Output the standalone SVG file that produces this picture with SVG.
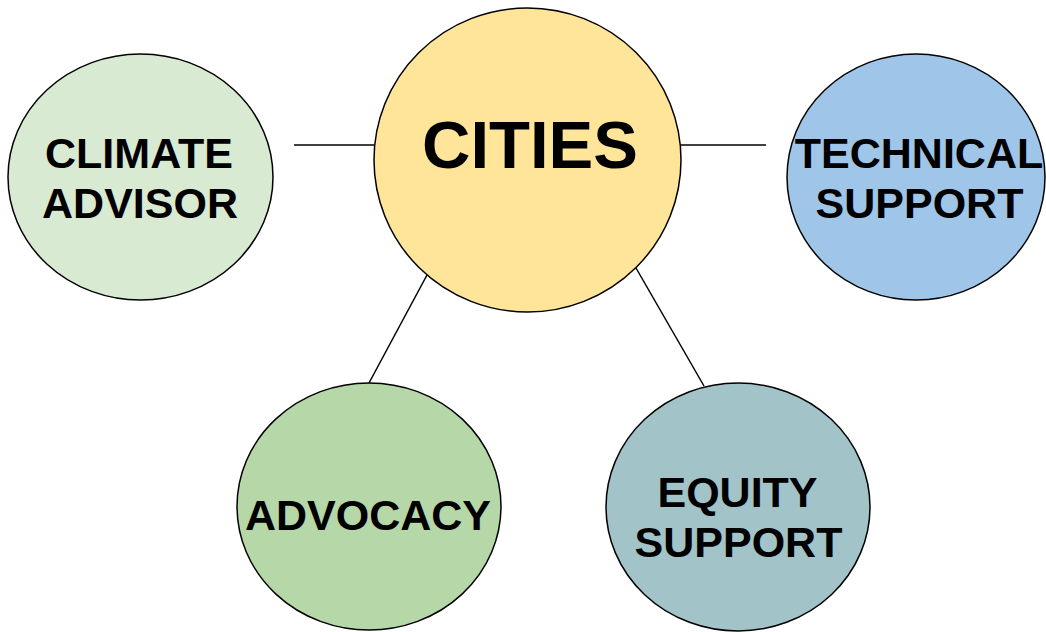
<svg xmlns="http://www.w3.org/2000/svg" width="1046" height="632" viewBox="0 0 1046 632">
<style>
.n{stroke:#000;stroke-width:1.5}
.c{stroke:#000;stroke-width:1.5;fill:none}
text{font-family:"Liberation Sans",Arial,sans-serif;font-weight:bold;fill:#000;text-anchor:middle}
.s{font-size:43px}
.b{font-size:67px}
</style>
<rect width="1046" height="632" fill="#fff"/>
<g id="connectors">
<line class="c" x1="294" y1="145" x2="374" y2="145"/>
<line class="c" x1="681" y1="145" x2="766" y2="145"/>
<line class="c" x1="427" y1="275" x2="369" y2="383"/>
<line class="c" x1="636" y1="268" x2="704" y2="386"/>
</g>
<g id="cities">
<ellipse class="n" cx="527.5" cy="160" rx="153.5" ry="152" fill="#FFE599"/>
<text class="b" x="530" y="168">CITIES</text>
</g>
<g id="climate-advisor">
<ellipse class="n" cx="140.5" cy="177" rx="132.5" ry="123" fill="#D9EAD3"/>
<text class="s" x="139" y="168">CLIMATE</text>
<text class="s" x="140" y="218">ADVISOR</text>
</g>
<g id="technical-support">
<ellipse class="n" cx="916" cy="177" rx="129" ry="123" fill="#9FC5E8"/>
<text class="s" x="919" y="168">TECHNICAL</text>
<text class="s" x="919.5" y="218">SUPPORT</text>
</g>
<g id="advocacy">
<ellipse class="n" cx="369" cy="506.5" rx="132" ry="123.5" fill="#B6D7A8"/>
<text class="s" x="368" y="530">ADVOCACY</text>
</g>
<g id="equity-support">
<ellipse class="n" cx="738" cy="507" rx="132" ry="124" fill="#A2C4C9"/>
<text class="s" x="737.5" y="507">EQUITY</text>
<text class="s" x="738.5" y="557">SUPPORT</text>
</g>
</svg>
